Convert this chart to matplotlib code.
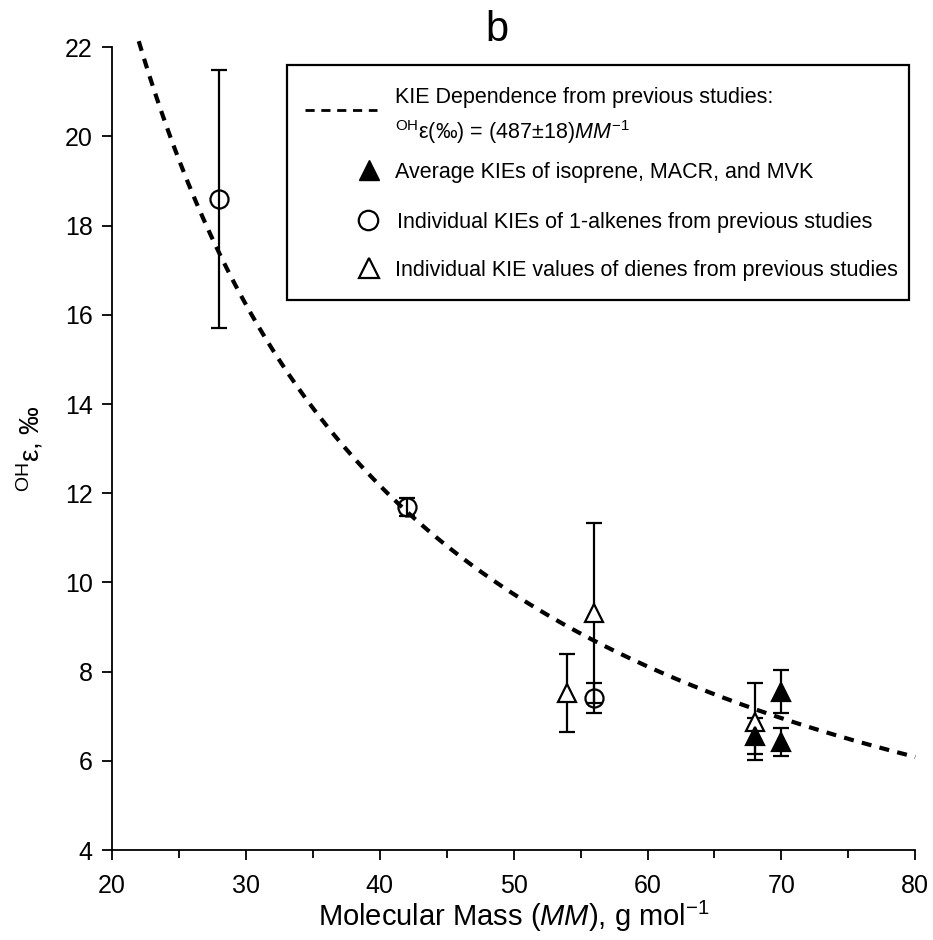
import numpy as np
import matplotlib
matplotlib.use("Agg")
import matplotlib.pyplot as plt
from matplotlib.lines import Line2D
from matplotlib.patches import Rectangle
from matplotlib.ticker import MultipleLocator

plt.rcParams['font.family'] = ['Liberation Sans', 'DejaVu Sans']
plt.rcParams['mathtext.fontset'] = 'custom'
plt.rcParams['mathtext.rm'] = 'Liberation Sans'
plt.rcParams['mathtext.it'] = 'Liberation Sans:italic'
plt.rcParams['mathtext.bf'] = 'Liberation Sans:bold'

# Data
fit_coef = 487.0
curve_x_range = [22, 80]

avg_mm = [68, 70, 70]
avg_kie = [6.55, 7.55, 6.42]
avg_err = [0.4, 0.48, 0.32]

alk_mm = [28, 42, 56]
alk_kie = [18.6, 11.7, 7.41]
alk_err = [2.9, 0.2, 0.33]

die_mm = [54, 56, 68]
die_kie = [7.52, 9.31, 6.88]
die_err = [0.87, 2.02, 0.87]

legend_labels = [
    'KIE Dependence from previous studies:',
    r'$^{\mathrm{OH}}$ε(‰) = (487±18)$\mathit{MM}^{-1}$',
    'Average KIEs of isoprene, MACR, and MVK',
    'Individual KIEs of 1-alkenes from previous studies',
    'Individual KIE values of dienes from previous studies',
]

W, H = 933, 940
fig = plt.figure(figsize=(W / 100, H / 100), dpi=100)
ax = fig.add_axes([0.120, 0.0957, 0.861, 0.854])

xc = np.linspace(curve_x_range[0], curve_x_range[1], 300)
ax.plot(xc, fit_coef / xc, color='black', lw=3.0, dashes=(2.4, 2.0), zorder=2, clip_on=False)

ekw = dict(ecolor='black', elinewidth=1.6, capsize=6, capthick=1.6, linestyle='none', zorder=3)
ax.errorbar(die_mm, die_kie, yerr=die_err, marker='^', ms=13, mfc='white', mec='black', mew=1.6, **ekw)
ax.errorbar(alk_mm, alk_kie, yerr=alk_err, marker='o', ms=13, mfc='none', mec='black', mew=1.6, **ekw)
ax.errorbar(avg_mm, avg_kie, yerr=avg_err, marker='^', ms=13, mfc='black', mec='black', mew=1.6, **ekw)

ax.set_xlim(20, 80)
ax.set_ylim(4, 22)
ax.xaxis.set_major_locator(MultipleLocator(10))
ax.xaxis.set_minor_locator(MultipleLocator(5))
ax.yaxis.set_major_locator(MultipleLocator(2))
ax.spines['top'].set_visible(False)
ax.spines['right'].set_visible(False)
for s in ['left', 'bottom']:
    ax.spines[s].set_linewidth(1.3)
ax.tick_params(axis='both', which='major', direction='out', length=7, width=1.3, labelsize=18)
ax.tick_params(axis='y', which='major', pad=7)
ax.tick_params(axis='x', which='major', pad=10)
ax.tick_params(axis='x', which='minor', direction='out', length=6, width=1.3)

ax.set_xlabel(r'Molecular Mass ($\mathit{MM}$), g mol$^{-1}$', fontsize=21, labelpad=1)
ax.set_ylabel(r'$^{\mathrm{OH}}$ε, ‰', fontsize=20, labelpad=14)
fig.text(497 / W, 1 - 30 / H, 'b', fontsize=30, ha='center', va='center')

# Manual legend (figure pixel positions converted to figure fractions)
def fx(px):
    return px / W

def fy(py):
    return 1 - py / H

T = fig.transFigure
fig.add_artist(Rectangle((fx(287), fy(300)), fx(909) - fx(287), fy(65) - fy(300),
                         transform=T, fill=True, facecolor='white', edgecolor='black',
                         lw=1.6, zorder=5))
fig.add_artist(Line2D([fx(305), fx(377)], [fy(110), fy(110)], transform=T, color='black',
                      lw=2.0, dashes=(3.3, 2.4), zorder=6))
fig.add_artist(Line2D([fx(369)], [fy(170)], transform=T, marker='^', ms=14, mfc='black',
                      mec='black', ls='none', zorder=6))
fig.add_artist(Line2D([fx(368)], [fy(220)], transform=T, marker='o', ms=14, mfc='none',
                      mec='black', mew=1.6, ls='none', zorder=6))
fig.add_artist(Line2D([fx(369)], [fy(268)], transform=T, marker='^', ms=14, mfc='white',
                      mec='black', mew=1.6, ls='none', zorder=6))
tkw = dict(fontsize=15.5, ha='left', va='baseline', zorder=7)
fig.text(fx(395), fy(103), legend_labels[0], **tkw)
fig.text(fx(395), fy(139), legend_labels[1], **tkw)
fig.text(fx(395), fy(178), legend_labels[2], **tkw)
fig.text(fx(397), fy(228), legend_labels[3], **tkw)
fig.text(fx(395), fy(276), legend_labels[4], **tkw)

fig.savefig('out.png', dpi=100)
